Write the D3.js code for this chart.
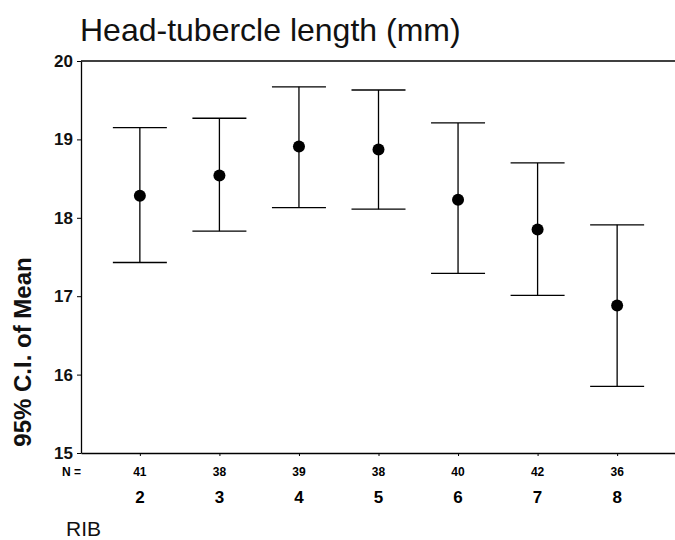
<!DOCTYPE html>
<html>
<head>
<meta charset="utf-8">
<script src="https://cdn.jsdelivr.net/npm/d3@7"></script>
<style>
  body { margin: 0; background: #fff; }
  svg { font-family: "Liberation Sans", Arial, sans-serif; }
</style>
</head>
<body>
<div id="chart"></div>
<script>
// data
const ribs = ["2", "3", "4", "5", "6", "7", "8"];
const nCounts = [41, 38, 39, 38, 40, 42, 36];
const means = [18.28, 18.54, 18.91, 18.87, 18.23, 17.85, 16.88];
const upper = [19.15, 19.27, 19.67, 19.63, 19.21, 18.70, 17.91];
const lower = [17.43, 17.83, 18.13, 18.11, 17.29, 17.01, 15.85];
const yTicks = [15, 16, 17, 18, 19, 20];

const width = 675, height = 540;
const margin = { left: 81, right: -1, top: 61, bottom: 87 };

const svg = d3.select("#chart").append("svg")
  .attr("width", width)
  .attr("height", height);

const innerW = width - margin.left - margin.right;
const innerH = height - margin.top - margin.bottom;

const g = svg.append("g")
  .attr("transform", `translate(${margin.left},${margin.top})`);

//scale
const x = d3.scalePoint().domain(ribs).range([0, innerW]).padding(0.74);
const y = d3.scaleLinear().domain([15, 20]).range([innerH, 0]);

//axis
const yAxis = g.append("g")
  .call(d3.axisLeft(y).tickValues(yTicks).tickFormat(d3.format("d")).tickSize(4).tickSizeOuter(0));
yAxis.select(".domain").attr("stroke", "#000").attr("stroke-width", 1.3);
yAxis.selectAll("text")
  .attr("font-size", 17)
  .attr("font-weight", "bold")
  .attr("fill", "#111")
  .attr("dx", "-1");

// top border line
g.append("line")
  .attr("x1", 0).attr("x2", innerW)
  .attr("y1", 0).attr("y2", 0)
  .attr("stroke", "#000").attr("stroke-width", 1.3);

const xAxis = g.append("g")
  .attr("transform", `translate(0,${innerH})`)
  .call(d3.axisBottom(x).tickSize(3).tickSizeOuter(0).tickFormat(""));
xAxis.select(".domain").attr("stroke", "#000").attr("stroke-width", 1.3);

// N row
const rows = ribs.map((r, i) => ({ rib: r, n: nCounts[i], mean: means[i], lo: lower[i], hi: upper[i] }));

g.append("text")
  .attr("x", -19).attr("y", innerH + 23)
  .attr("font-size", 12)
  .attr("font-weight", "bold")
  .text("N =");

g.selectAll(".ncount")
  .data(rows)
  .join("text")
  .attr("class", "ncount")
  .attr("x", d => x(d.rib))
  .attr("y", innerH + 23)
  .attr("text-anchor", "middle")
  .attr("font-size", 12)
  .attr("font-weight", "bold")
  .text(d => d.n);

g.selectAll(".rib")
  .data(rows)
  .join("text")
  .attr("class", "rib")
  .attr("x", d => x(d.rib))
  .attr("y", innerH + 50)
  .attr("text-anchor", "middle")
  .attr("font-size", 17)
  .attr("font-weight", "bold")
  .text(d => d.rib);

// error bars
const capW = 27;
const bars = g.selectAll(".bar").data(rows).join("g").attr("class", "bar");
bars.append("line")
  .attr("x1", d => x(d.rib)).attr("x2", d => x(d.rib))
  .attr("y1", d => y(d.hi)).attr("y2", d => y(d.lo))
  .attr("stroke", "#000").attr("stroke-width", 1.3);
bars.append("line")
  .attr("x1", d => x(d.rib) - capW).attr("x2", d => x(d.rib) + capW)
  .attr("y1", d => y(d.hi)).attr("y2", d => y(d.hi))
  .attr("stroke", "#000").attr("stroke-width", 1.3);
bars.append("line")
  .attr("x1", d => x(d.rib) - capW).attr("x2", d => x(d.rib) + capW)
  .attr("y1", d => y(d.lo)).attr("y2", d => y(d.lo))
  .attr("stroke", "#000").attr("stroke-width", 1.3);
bars.append("circle")
  .attr("cx", d => x(d.rib))
  .attr("cy", d => y(d.mean))
  .attr("r", 6)
  .attr("fill", "#000");

//label
svg.append("text")
  .attr("x", 80).attr("y", 41)
  .attr("font-size", 32)
  .attr("fill", "#111")
  .text("Head-tubercle length (mm)");

svg.append("text")
  .attr("transform", `translate(31,${352}) rotate(-90)`)
  .attr("text-anchor", "middle")
  .attr("font-size", 24)
  .attr("font-weight", "bold")
  .attr("fill", "#111")
  .text("95% C.I. of Mean");

svg.append("text")
  .attr("x", 66).attr("y", 536)
  .attr("font-size", 21)
  .attr("fill", "#111")
  .text("RIB");
</script>
</body>
</html>
